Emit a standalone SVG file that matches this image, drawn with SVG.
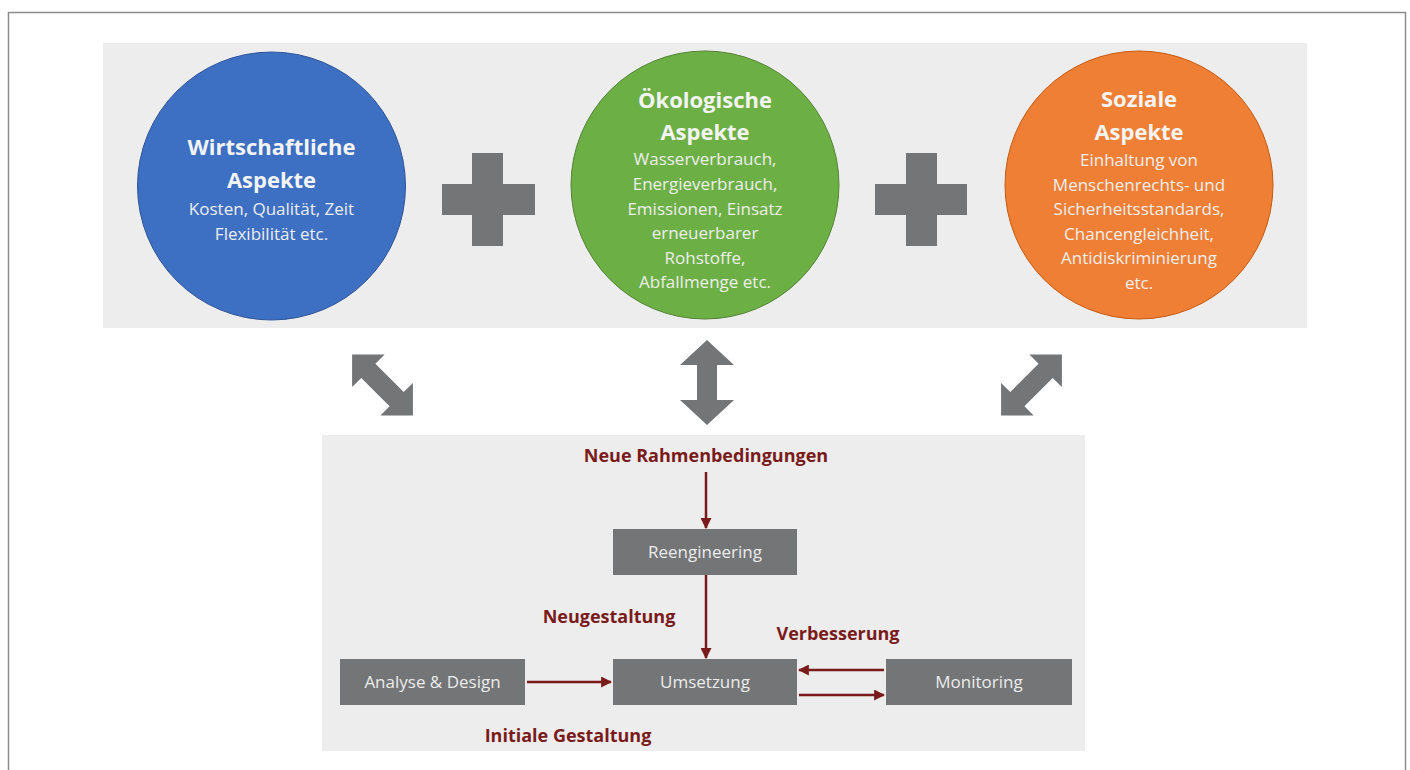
<svg xmlns="http://www.w3.org/2000/svg" width="1410" height="770" viewBox="0 0 1410 770">
  <defs>
    <style>
      .panel { fill: #ededed; }
      .title { font-family: "Open Sans", "Liberation Sans", sans-serif; font-weight: bold; font-size: 22px; fill: #f4f4f4; text-anchor: middle; }
      .sub { font-family: "Open Sans", "Liberation Sans", sans-serif; font-size: 17px; fill: #eeeeee; text-anchor: middle; }
      .gray { fill: #737576; }
      .box { fill: #737576; }
      .boxtxt { font-family: "Open Sans", "Liberation Sans", sans-serif; font-size: 17px; fill: #ececec; text-anchor: middle; }
      .lbl { font-family: "Open Sans", "Liberation Sans", sans-serif; font-weight: bold; font-size: 18px; fill: #7a1b1b; text-anchor: middle; }
      .conn { stroke: #7a1b1b; stroke-width: 2.5; fill: none; marker-end: url(#ah); }
    </style>
    <marker id="ah" viewBox="0 0 10 10" refX="9" refY="5" markerWidth="4.4" markerHeight="4.4" orient="auto" markerUnits="strokeWidth">
      <path d="M0,0 L10,5 L0,10 Z" fill="#7a1b1b"/>
    </marker>
    <polygon id="dbl" points="0,-43 23,-20 10,-20 10,20 23,20 0,43 -23,20 -10,20 -10,-20 -23,-20"/>
  </defs>

  <rect width="1410" height="770" fill="#ffffff"/>
  <path d="M8.5,772 V12.5 H1405.5 V772" fill="none" stroke="#8c8c8c" stroke-width="1.5"/>

  <rect class="panel" x="103" y="43" width="1204" height="285"/>
  <rect class="panel" x="322" y="435" width="763" height="316"/>

  <g id="wirtschaftlich">
    <circle cx="271.5" cy="186" r="134" fill="#3d6fc2" stroke="#2f5597" stroke-width="1"/>
    <text class="title" x="271.5" y="155">Wirtschaftliche</text>
    <text class="title" x="271.5" y="188">Aspekte</text>
    <text class="sub" x="271.5" y="215">Kosten, Qualität, Zeit</text>
    <text class="sub" x="271.5" y="240">Flexibilität etc.</text>
  </g>

  <g id="plus1">
    <path class="gray" d="M472,153 H503 V184 H535 V215 H503 V246 H472 V215 H442 V184 H472 Z"/>
  </g>

  <g id="oekologisch">
    <circle cx="705" cy="185" r="134" fill="#6cb045" stroke="#548235" stroke-width="1"/>
    <text class="title" x="705" y="108">Ökologische</text>
    <text class="title" x="705" y="140">Aspekte</text>
    <text class="sub" x="705" y="165">Wasserverbrauch,</text>
    <text class="sub" x="705" y="190">Energieverbrauch,</text>
    <text class="sub" x="705" y="215">Emissionen, Einsatz</text>
    <text class="sub" x="705" y="239">erneuerbarer</text>
    <text class="sub" x="705" y="264">Rohstoffe,</text>
    <text class="sub" x="705" y="288">Abfallmenge etc.</text>
  </g>

  <g id="plus2">
    <path class="gray" d="M906,153 H937 V184 H967 V215 H937 V246 H906 V215 H875 V184 H906 Z"/>
  </g>

  <g id="sozial">
    <circle cx="1139" cy="185" r="134" fill="#ee7f35" stroke="#c55a11" stroke-width="1"/>
    <text class="title" x="1139" y="107">Soziale</text>
    <text class="title" x="1139" y="140">Aspekte</text>
    <text class="sub" x="1139" y="166">Einhaltung von</text>
    <text class="sub" x="1139" y="190.5">Menschenrechts- und</text>
    <text class="sub" x="1139" y="215">Sicherheitsstandards,</text>
    <text class="sub" x="1139" y="239.5">Chancengleichheit,</text>
    <text class="sub" x="1139" y="264">Antidiskriminierung</text>
    <text class="sub" x="1139" y="288.5">etc.</text>
  </g>

  <g id="big-arrows" class="gray">
    <use href="#dbl" transform="translate(382.5,385) rotate(-45)"/>
    <polygon points="707,340 734,365 717,365 717,400 734,400 707,425 680,400 697,400 697,365 680,365"/>
    <use href="#dbl" transform="translate(1031.5,385) rotate(45)"/>
  </g>

  <g id="reengineering">
    <rect class="box" x="613" y="529" width="184" height="46"/>
    <text class="boxtxt" x="705" y="558">Reengineering</text>
  </g>
  <g id="analyse">
    <rect class="box" x="340" y="659" width="185" height="46"/>
    <text class="boxtxt" x="432.5" y="688">Analyse &amp; Design</text>
  </g>
  <g id="umsetzung">
    <rect class="box" x="613" y="659" width="184" height="46"/>
    <text class="boxtxt" x="705" y="688">Umsetzung</text>
  </g>
  <g id="monitoring">
    <rect class="box" x="886" y="659" width="186" height="46"/>
    <text class="boxtxt" x="979" y="688">Monitoring</text>
  </g>

  <g id="labels">
    <text class="lbl" x="706" y="462">Neue Rahmenbedingungen</text>
    <text class="lbl" x="609" y="623">Neugestaltung</text>
    <text class="lbl" x="838" y="640">Verbesserung</text>
    <text class="lbl" x="568" y="742">Initiale Gestaltung</text>
  </g>

  <g id="connectors">
    <line class="conn" x1="706" y1="472" x2="706" y2="528"/>
    <line class="conn" x1="706" y1="575" x2="706" y2="658"/>
    <line class="conn" x1="527" y1="682" x2="611" y2="682"/>
    <line class="conn" x1="884" y1="670" x2="799" y2="670"/>
    <line class="conn" x1="799" y1="695" x2="884" y2="695"/>
  </g>
</svg>
